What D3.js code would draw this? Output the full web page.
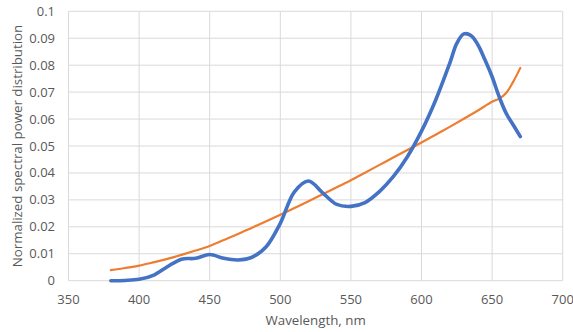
<!DOCTYPE html>
<html><head><meta charset="utf-8">
<script src="https://cdn.jsdelivr.net/npm/d3@7"></script>
<style>
body{margin:0;background:#fff;}
text{font-family:"Open Sans",sans-serif;fill:#595959;}
</style></head>
<body><svg id="c" width="573" height="332"></svg>
<script>
const wavelengths = [380,390,400,410,420,430,440,450,460,470,480,490,500,510,520,530,540,550,560,570,580,590,600,610,620,625,630,635,640,645,650,655,660,665,670];
const measured = [0.0000,0.0001,0.0005,0.0020,0.0052,0.0080,0.0083,0.0097,0.0083,0.0077,0.0087,0.0126,0.0213,0.0330,0.0370,0.0326,0.0283,0.0276,0.0290,0.0330,0.0386,0.0460,0.0555,0.0670,0.0807,0.0881,0.0916,0.0910,0.0875,0.0819,0.0757,0.0683,0.0621,0.0578,0.0535];
const refWavelengths = [380,390,400,410,420,430,440,450,460,470,480,490,500,510,520,530,540,550,560,570,580,590,600,610,620,630,640,650,655,660,665,670];
const reference = [0.0039,0.0047,0.0056,0.0068,0.0081,0.0096,0.0112,0.0129,0.0151,0.0173,0.0197,0.0221,0.0245,0.0270,0.0295,0.0321,0.0347,0.0373,0.0401,0.0429,0.0457,0.0485,0.0513,0.0542,0.0571,0.0601,0.0632,0.0664,0.0676,0.0697,0.0739,0.0790];
const xTicks = [350,400,450,500,550,600,650,700];
const yTicks = [0,0.01,0.02,0.03,0.04,0.05,0.06,0.07,0.08,0.09,0.1];

const svg = d3.select("#c");
const x = d3.scaleLinear().domain([350,700]).range([68.5,562.7]);
const y = d3.scaleLinear().domain([0,0.1]).range([280.7,11.3]);

// grid
svg.append("g").selectAll("line").data(yTicks).join("line")
  .attr("x1",x(350)).attr("x2",x(700)).attr("y1",d=>y(d)).attr("y2",d=>y(d))
  .attr("stroke","#d9d9d9").attr("stroke-width",1);
svg.append("g").selectAll("line").data(xTicks).join("line")
  .attr("y1",y(0)).attr("y2",y(0.1)).attr("x1",d=>x(d)).attr("x2",d=>x(d))
  .attr("stroke","#d9d9d9").attr("stroke-width",1);

// tick labels
svg.append("g").selectAll("text").data(yTicks).join("text")
  .attr("x",55).attr("y",d=>y(d)).attr("dy","0.35em").attr("text-anchor","end")
  .style("font-size","13px").text(d=>d3.format("")(+d.toFixed(2)));
svg.append("g").selectAll("text").data(xTicks).join("text")
  .attr("x",d=>x(d)).attr("y",304).attr("text-anchor","middle")
  .style("font-size","13px").text(d=>d);

// titles
svg.append("text").attr("x",x(525)).attr("y",325).attr("text-anchor","middle")
  .style("font-size","13.3px").text("Wavelength, nm");
svg.append("text").attr("transform",`translate(22,${(y(0)+y(0.1))/2}) rotate(-90)`)
  .attr("text-anchor","middle").style("font-size","13.3px").text("Normalized spectral power distribution");

const curve = d3.curveCatmullRom.alpha(0.5);
svg.append("path").datum(refWavelengths.map((w,i)=>[w,reference[i]]))
  .attr("d",d3.line().x(d=>x(d[0])).y(d=>y(d[1])).curve(curve))
  .attr("fill","none").attr("stroke","#ED7D31").attr("stroke-width",2.2).attr("stroke-linecap","round");
svg.append("path").datum(wavelengths.map((w,i)=>[w,measured[i]]))
  .attr("d",d3.line().x(d=>x(d[0])).y(d=>y(d[1])).curve(curve))
  .attr("fill","none").attr("stroke","#4472C4").attr("stroke-width",3.6).attr("stroke-linecap","round");
</script></body></html>
